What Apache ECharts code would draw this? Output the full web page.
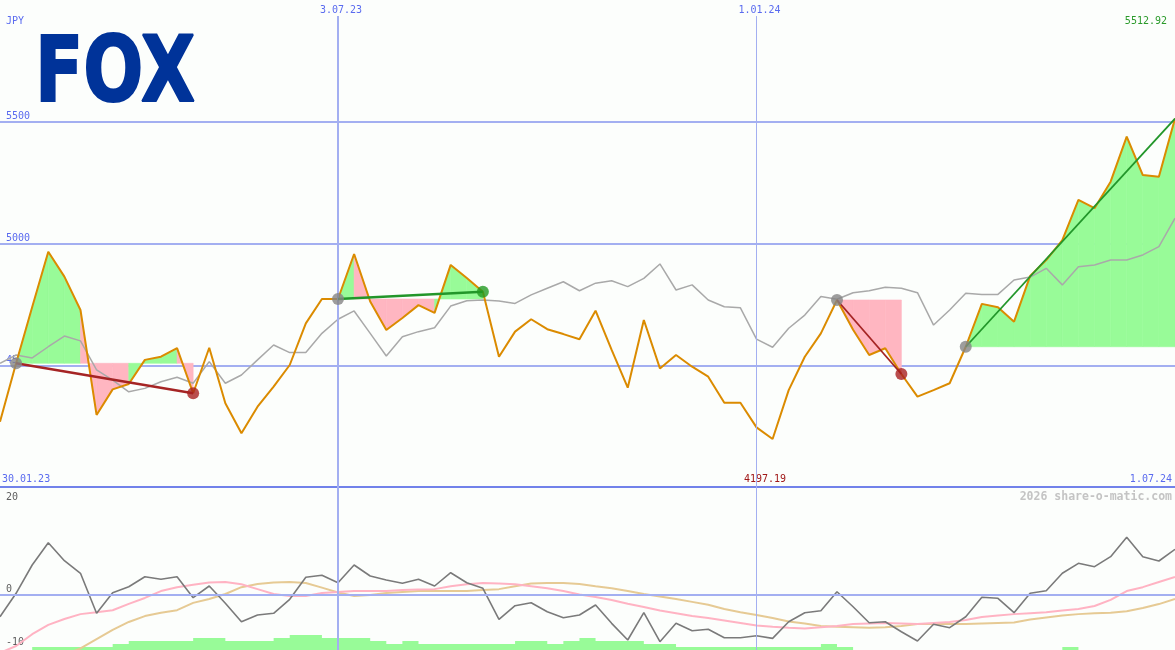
<!DOCTYPE html>
<html>
<head>
<meta charset="utf-8">
<script src="https://cdn.jsdelivr.net/npm/echarts@6/dist/echarts.min.js"></script>
<style>
html,body{margin:0;padding:0;background:#fcfefc;}
#c{width:1175px;height:650px;}
</style>
</head>
<body>
<div id="c"></div>
<script>
const categories = ['6.02.23','13.02.23','20.02.23','27.02.23','6.03.23','13.03.23','20.03.23','27.03.23','3.04.23','10.04.23','17.04.23','24.04.23','1.05.23','8.05.23','15.05.23','22.05.23','29.05.23','5.06.23','12.06.23','19.06.23','26.06.23','3.07.23','10.07.23','17.07.23','24.07.23','31.07.23','7.08.23','14.08.23','21.08.23','28.08.23','4.09.23','11.09.23','18.09.23','25.09.23','2.10.23','9.10.23','16.10.23','23.10.23','30.10.23','6.11.23','13.11.23','20.11.23','27.11.23','4.12.23','11.12.23','18.12.23','25.12.23','1.01.24','8.01.24','15.01.24','22.01.24','29.01.24','5.02.24','12.02.24','19.02.24','26.02.24','4.03.24','11.03.24','18.03.24','25.03.24','1.04.24','8.04.24','15.04.24','22.04.24','29.04.24','6.05.24','13.05.24','20.05.24','27.05.24','3.06.24','10.06.24','17.06.24','24.06.24','1.07.24'];
const price = [4268,4508,4739,4966,4864,4727,4296,4401,4423,4522,4535,4570,4385,4572,4344,4221,4330,4412,4501,4672,4772,4772,4957,4762,4645,4694,4747,4715,4912,4858,4802,4535,4638,4689,4648,4628,4607,4724,4563,4408,4686,4487,4542,4494,4453,4346,4346,4245,4197.19,4398,4535,4631,4768,4646,4542,4570,4464,4371,4398,4426,4576,4752,4738,4679,4867,4932,5014,5179,5145,5254,5439,5281,5274,5512.92];
const avg = [4508,4542,4530,4576,4620,4600,4481,4439,4391,4405,4432,4451,4426,4515,4426,4460,4522,4583,4552,4552,4631,4689,4723,4631,4538,4617,4638,4654,4743,4765,4768,4764,4754,4789,4816,4843,4806,4837,4847,4823,4857,4916,4809,4830,4768,4740,4736,4607,4574,4652,4706,4782,4771,4798,4806,4820,4816,4798,4665,4727,4796,4791,4791,4850,4862,4898,4830,4905,4912,4932,4932,4953,4987,5104];
const osc = [-4.43,0.35,6.12,10.67,7.0,4.43,-3.73,0.47,1.69,3.73,3.2,3.73,-0.55,1.84,-1.69,-5.45,-4.08,-3.73,-0.88,3.61,4.02,2.51,6.12,3.88,3.06,2.39,3.2,1.84,4.55,2.51,1.37,-4.96,-2.18,-1.57,-3.41,-4.63,-4.08,-2.04,-5.78,-9.18,-3.61,-9.53,-5.78,-7.29,-7.0,-8.71,-8.71,-8.31,-8.84,-5.45,-3.61,-3.2,0.67,-2.39,-5.65,-5.45,-7.49,-9.39,-5.98,-6.67,-4.43,-0.47,-0.67,-3.61,0.35,0.88,4.43,6.47,5.78,7.82,11.78,7.82,6.94,9.33];
const oscPink = [-11.8,-10.4,-8.0,-6.1,-4.9,-3.9,-3.5,-3.1,-1.8,-0.6,0.8,1.6,2.1,2.55,2.65,2.2,1.2,0.2,-0.2,-0.2,0.4,0.6,0.8,0.8,0.8,1.0,1.1,1.2,1.8,2.2,2.45,2.35,2.2,1.8,1.4,0.8,0.1,-0.4,-1.0,-1.8,-2.45,-3.15,-3.7,-4.3,-4.7,-5.2,-5.7,-6.2,-6.5,-6.7,-6.85,-6.6,-6.3,-5.9,-5.8,-5.7,-5.8,-5.9,-5.7,-5.5,-5.1,-4.5,-4.2,-3.9,-3.7,-3.5,-3.15,-2.85,-2.25,-1.0,0.8,1.6,2.65,3.7];
const oscTan = [-18,-16.5,-15,-13.5,-12.2,-10.9,-9.0,-7.1,-5.5,-4.3,-3.6,-3.1,-1.6,-0.8,0.2,1.6,2.25,2.55,2.65,2.45,1.5,0.5,-0.2,0,0.4,0.6,0.8,0.8,0.8,0.8,1.0,1.2,1.8,2.35,2.45,2.45,2.25,1.8,1.4,0.8,0.2,-0.3,-0.8,-1.4,-2.0,-2.85,-3.5,-4.1,-4.7,-5.4,-5.8,-6.3,-6.5,-6.6,-6.7,-6.6,-6.3,-5.9,-5.9,-5.9,-5.9,-5.8,-5.7,-5.6,-5.0,-4.6,-4.2,-3.9,-3.7,-3.6,-3.3,-2.65,-1.85,-0.8];
const bars = [0,0,1,1,1,1,1,2,3,3,3,3,4,4,3,3,3,4,5,5,4,4,4,3,2,3,2,2,2,2,2,2,3,3,2,3,4,3,3,3,2,2,1,1,1,1,1,1,1,1,1,2,1,0,0,0,0,0,0,0,0,0,0,0,0,0,1,0,0,0,0,0,0,0];
const tradeBuy = [1,21,52,60];
const tradeSell = [12,30,56,73];
const tradeOpen = [false,false,false,true];
const upperTicks = [4500,5000,5500];
const lowerTicks = [-10,0,20];
const markedDates = ['3.07.23','1.01.24'];
const startLabel = '30.01.23';
const endLabel = '1.07.24';

const BLUE = '#5a6bef';
const GRIDC = '#a3aff1';
const SEPC = '#7182ea';
const GREEN = '#98fb98';
const PINK = '#ffb6c1';
const MONO = '"DejaVu Sans Mono", monospace';

const fillData = [];
tradeBuy.forEach((b, t) => {
  for (let k = b; k < tradeSell[t]; k++) fillData.push([k, price[b], t]);
});

const series = [];
series.push({
  type: 'custom', xAxisIndex: 0, yAxisIndex: 0, z: 2, silent: true,
  data: fillData,
  encode: {x: 0, y: 1},
  renderItem: function (params, api) {
    const i = api.value(0), base = api.value(1);
    const p0 = api.coord([i, price[i]]), p1 = api.coord([i + 1, price[i + 1]]);
    const b0 = api.coord([i, base]), b1 = api.coord([i + 1, base]);
    const col = price[i + 1] >= base ? GREEN : PINK;
    return {type: 'polygon', shape: {points: [b0, p0, p1, b1]}, style: {fill: col, stroke: col, lineWidth: 0.6}};
  }
});
series.push({
  type: 'line', xAxisIndex: 0, yAxisIndex: 0, z: 3, data: avg, symbol: 'none', silent: true,
  lineStyle: {color: '#a9a9a9', width: 1.5},
  markLine: {
    silent: true, symbol: 'none', label: {show: false},
    data: [
      [{coord: [markedDates[0], 5934], lineStyle: {width: 2}}, {coord: [markedDates[0], 4000]}],
      [{coord: [markedDates[1], 5934], lineStyle: {width: 1}}, {coord: [markedDates[1], 4000]}]
    ],
    lineStyle: {color: GRIDC, type: 'solid'}
  }
});
series.push({
  type: 'line', xAxisIndex: 0, yAxisIndex: 0, z: 4, data: price, symbol: 'none', silent: true,
  lineStyle: {color: '#db8b00', width: 2}
});
const dots = [];
tradeBuy.forEach((b, t) => {
  const s = tradeSell[t];
  const win = price[s] >= price[b];
  series.push({
    type: 'line', xAxisIndex: 0, yAxisIndex: 0, z: 5, symbol: 'none', silent: true,
    data: [[categories[b], price[b]], [categories[s], price[s]]],
    lineStyle: {color: win ? '#22962a' : '#a52424', width: t < 2 ? 2.5 : 1.8}
  });
  dots.push({value: [categories[b], price[b]], itemStyle: {color: '#858585'}});
  if (!tradeOpen[t]) dots.push({value: [categories[s], price[s]], itemStyle: {color: win ? '#229a22' : '#a82020'}});
});
series.push({
  type: 'scatter', xAxisIndex: 0, yAxisIndex: 0, z: 6, symbolSize: 12, silent: true, data: dots
});

// lower panel
series.push({
  type: 'line', xAxisIndex: 1, yAxisIndex: 2, z: 1, data: bars, step: 'end', symbol: 'none', silent: true,
  lineStyle: {width: 0, opacity: 0}, areaStyle: {color: GREEN, opacity: 1}
});
series.push({
  type: 'line', xAxisIndex: 1, yAxisIndex: 1, z: 2, data: oscTan, symbol: 'none', silent: true,
  lineStyle: {color: '#e6ca94', width: 2},
  markLine: {
    silent: true, symbol: 'none', label: {show: false}, lineStyle: {color: GRIDC, type: 'solid'},
    data: [
      {yAxis: 0, lineStyle: {width: 2}},
      {xAxis: markedDates[0], lineStyle: {width: 2}},
      {xAxis: markedDates[1], lineStyle: {width: 1}}
    ]
  }
});
series.push({
  type: 'line', xAxisIndex: 1, yAxisIndex: 1, z: 3, data: oscPink, symbol: 'none', silent: true,
  lineStyle: {color: '#ffb3c3', width: 2}
});
series.push({
  type: 'line', xAxisIndex: 1, yAxisIndex: 1, z: 4, data: osc, symbol: 'none', silent: true,
  lineStyle: {color: '#7a7a7a', width: 1.6}
});

const lastPrice = price[price.length - 1];
const minPrice = Math.min.apply(null, price);
const lowStyle = {color: '#5e5e5e', fontFamily: MONO, fontSize: 10};

const chart = echarts.init(document.getElementById('c'));
chart.setOption({
  animation: false,
  backgroundColor: '#fcfefc',
  grid: [
    {left: 0, right: 0, top: 0, height: 487},
    {left: 0, right: 0, top: 487, height: 163}
  ],
  xAxis: [
    {type: 'category', gridIndex: 0, data: categories, boundaryGap: false, position: 'top',
     axisLine: {show: false}, axisTick: {show: false}, splitLine: {show: false},
     axisLabel: {inside: true, margin: 5, padding: [0, 0, 0, 6], color: BLUE, fontFamily: MONO, fontSize: 10,
       interval: function (idx, val) { return markedDates.indexOf(val) >= 0; }}},
    {type: 'category', gridIndex: 1, data: categories, boundaryGap: false, show: false}
  ],
  yAxis: [
    {type: 'value', gridIndex: 0, min: 4000, max: 6000, interval: 500,
     axisLine: {show: false}, axisTick: {show: false},
     axisLabel: {inside: true, margin: 6, verticalAlign: 'bottom', color: BLUE, fontFamily: MONO, fontSize: 10,
       formatter: function (v) { return upperTicks.indexOf(v) >= 0 ? String(v) : ''; }},
     splitLine: {show: true, showMaxLine: false, lineStyle: {width: 2, color: [SEPC, GRIDC, GRIDC, GRIDC]}}},
    {type: 'value', gridIndex: 1, min: -11.22, max: 22.04,
     axisLine: {show: false}, axisTick: {show: false}, splitLine: {show: false},
     axisLabel: {inside: true, margin: 6, verticalAlign: 'middle', color: '#5e5e5e', fontFamily: MONO, fontSize: 10,
       customValues: lowerTicks,
       formatter: function (v) { return v === 0 ? '{z|0}' : (v < 0 ? '{m|' + v + '}' : '{n|' + v + '}'); },
       rich: {
         z: Object.assign({padding: [0, 0, 12, 0]}, lowStyle),
         m: Object.assign({padding: [0, 0, 4, 0]}, lowStyle),
         n: Object.assign({}, lowStyle)
       }}},
    {type: 'value', gridIndex: 1, min: 0, max: 54.33, show: false}
  ],
  graphic: [
    {type: 'text', x: 35, y: 78, scaleX: 0.785, z: 10, silent: true,
     style: {text: 'FOX', font: 'bold 90px "DejaVu Sans", sans-serif', fill: '#003399', stroke: '#003399', lineWidth: 2, verticalAlign: 'middle', align: 'left'}},
    {type: 'text', x: 6, y: 21, silent: true, style: {text: 'JPY', font: '10px ' + MONO, fill: BLUE, verticalAlign: 'middle'}},
    {type: 'text', x: 1167, y: 21, silent: true, style: {text: lastPrice.toFixed(2), font: '10px ' + MONO, fill: '#2a9a2a', align: 'right', verticalAlign: 'middle'}},
    {type: 'text', x: 2, y: 479, silent: true, style: {text: startLabel, font: '10px ' + MONO, fill: BLUE, verticalAlign: 'middle'}},
    {type: 'text', x: 765, y: 479, silent: true, style: {text: minPrice.toFixed(2), font: '10px ' + MONO, fill: '#a01818', align: 'center', verticalAlign: 'middle'}},
    {type: 'text', x: 1172, y: 479, silent: true, style: {text: endLabel, font: '10px ' + MONO, fill: BLUE, align: 'right', verticalAlign: 'middle'}},
    {type: 'text', x: 1172, y: 497, silent: true, style: {text: '2026 share-o-matic.com', font: 'bold 11.5px ' + MONO, fill: '#c4c4c4', align: 'right', verticalAlign: 'middle'}}
  ],
  series: series
});
</script>
</body>
</html>
